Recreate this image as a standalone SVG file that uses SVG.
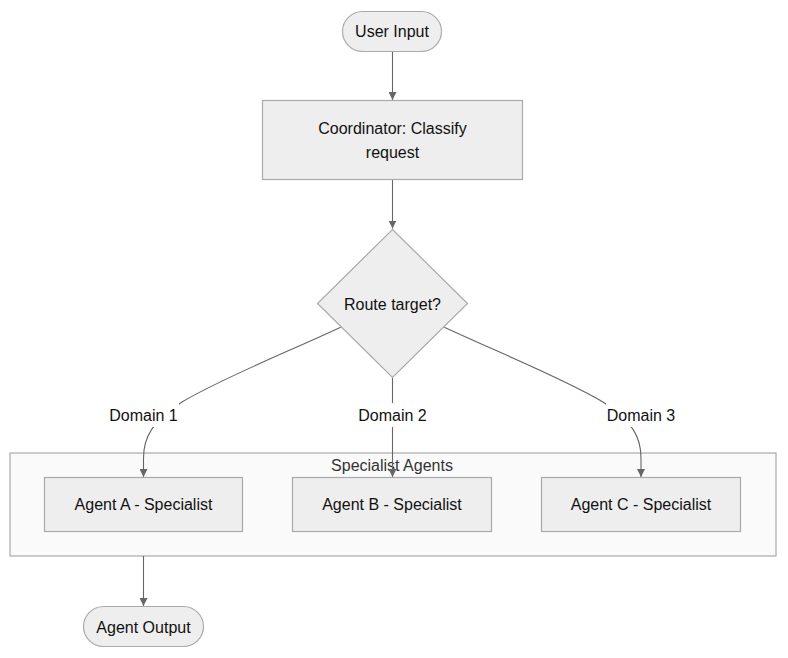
<svg xmlns="http://www.w3.org/2000/svg" width="788" height="658" viewBox="0 0 788 658">
<defs>
<style>
.node{fill:#eeeeee;stroke:#aaaaaa;stroke-width:1.2}
.cluster{fill:#fafafa;stroke:#aaaaaa;stroke-width:1.2}
.lbl{font-family:"Liberation Sans",Arial,sans-serif;font-size:16px;fill:#111;text-anchor:middle;dominant-baseline:central}
.ctitle{font-family:"Liberation Sans",Arial,sans-serif;font-size:16px;fill:#333;text-anchor:middle;dominant-baseline:central}
.edge{fill:none;stroke:#666;stroke-width:1.1;marker-end:url(#arr)}
.elbg{fill:#ffffff}
</style>
<marker id="arr" viewBox="0 0 10 10" refX="10" refY="5" markerWidth="8" markerHeight="8" markerUnits="userSpaceOnUse" orient="auto">
<path d="M0,0 L10,5 L0,10 z" fill="#666"/>
</marker>
</defs>
<rect width="788" height="658" fill="#ffffff"/>

<g id="cluster-specialist">
<rect class="cluster" x="10" y="453" width="766" height="103"/>
<text class="ctitle" x="392" y="465">Specialist Agents</text>
</g>

<g id="connectors">
<path class="edge" d="M392.5,51 L392.5,100"/>
<path class="edge" d="M392.5,179 L392.5,228.5"/>
<path class="edge" d="M340.7,327.3 C290,351 222,378 182,402 C152,421 143.5,438 143.5,458 L143.5,477"/>
<path class="edge" d="M392.5,378 L392.5,477"/>
<path class="edge" d="M444.3,327.3 C495,351 563,378 603,402 C633,421 641,438 641,458 L641,477"/>
<path class="edge" d="M143.5,556 L143.5,606"/>
</g>

<g id="edge-labels">
<g id="label-domain1">
<rect class="elbg" x="108" y="403" width="71" height="24"/>
<text class="lbl" x="143.5" y="415">Domain 1</text>
</g>
<g id="label-domain2">
<rect class="elbg" x="357" y="403" width="71" height="24"/>
<text class="lbl" x="392.5" y="415">Domain 2</text>
</g>
<g id="label-domain3">
<rect class="elbg" x="606" y="403" width="71" height="24"/>
<text class="lbl" x="641" y="415">Domain 3</text>
</g>
</g>

<g id="user-input">
<rect class="node" x="342.5" y="11.5" width="99" height="40" rx="20" ry="20"/>
<text class="lbl" x="392" y="31">User Input</text>
</g>

<g id="coordinator">
<rect class="node" x="262.5" y="100.5" width="260" height="79"/>
<text class="lbl" x="392.5" y="128">Coordinator: Classify</text>
<text class="lbl" x="392.5" y="152">request</text>
</g>

<g id="route">
<polygon class="node" points="392.5,229.5 467.5,303.5 392.5,377.5 317.5,303.5"/>
<text class="lbl" x="392.5" y="304">Route target?</text>
</g>

<g id="agent-a">
<rect class="node" x="44.5" y="477.5" width="198" height="54"/>
<text class="lbl" x="143.5" y="504">Agent A - Specialist</text>
</g>

<g id="agent-b">
<rect class="node" x="292.5" y="477.5" width="199" height="54"/>
<text class="lbl" x="392" y="504">Agent B - Specialist</text>
</g>

<g id="agent-c">
<rect class="node" x="541.5" y="477.5" width="199" height="54"/>
<text class="lbl" x="641" y="504">Agent C - Specialist</text>
</g>

<g id="agent-output">
<rect class="node" x="83.5" y="606.5" width="120" height="40" rx="20" ry="20"/>
<text class="lbl" x="143.5" y="627">Agent Output</text>
</g>
</svg>
